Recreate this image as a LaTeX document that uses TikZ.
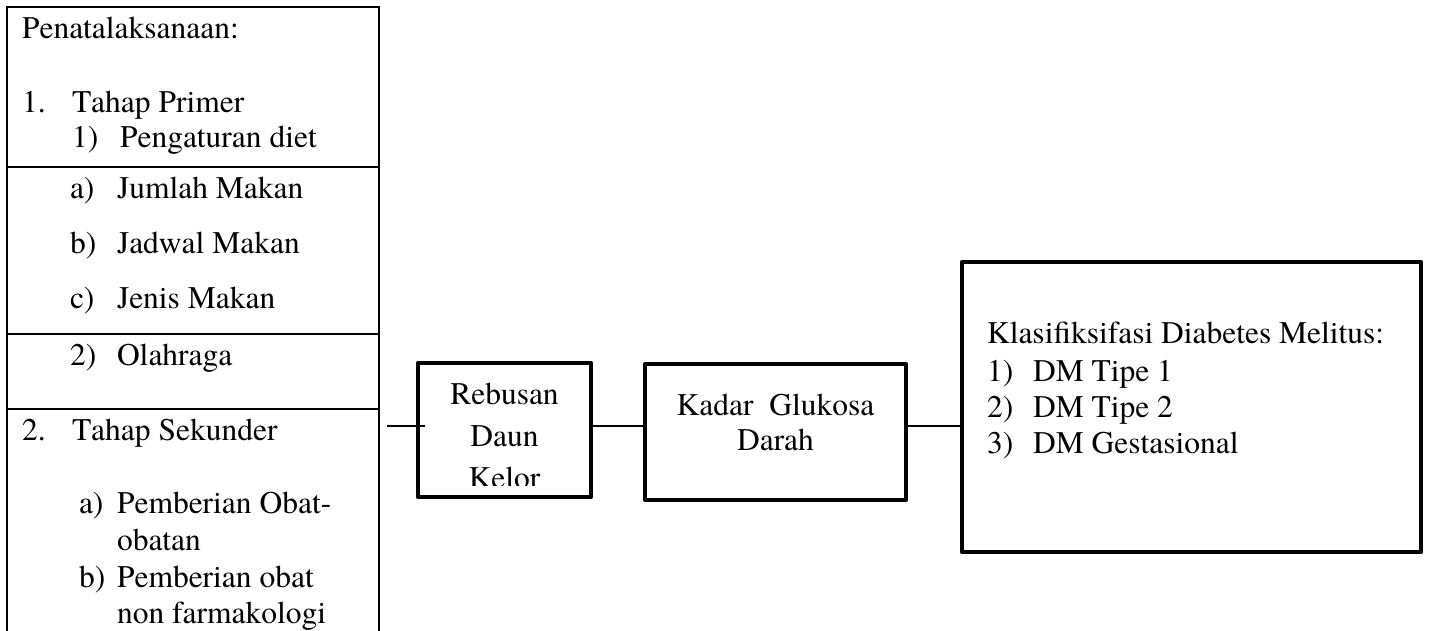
\documentclass[tikz,border=0pt]{standalone}
\usepackage{fontspec}
\setmainfont{texgyretermes}[Extension=.otf, UprightFont=*-regular, BoldFont=*-bold, ItalicFont=*-italic, BoldItalicFont=*-bolditalic, Kerning=Off]
\begin{document}
\begin{tikzpicture}[x=1pt,y=-1pt,
  every node/.style={inner sep=0pt, outer sep=0pt, font=\fontsize{31.5}{36}\selectfont},
  thinline/.style={line width=2.5pt},
  thickbox/.style={draw, line width=4.2pt, line join=round},
  lbox/.style={draw, line width=2.5pt},
  txt/.style={anchor=base west},
  ctxt/.style={anchor=base}]
\useasboundingbox (0,0) rectangle (1430,630);
% left panel (open at the bottom, runs past the page edge)
\node[lbox, anchor=north west, minimum width=372pt, minimum height=680pt] (left) at (7,7) {};
\coordinate (d1) at (7,167);
\coordinate (d2) at (7,334);
\coordinate (d3) at (7,409);
\draw[thinline] (d1) -- (left.east |- d1);
\draw[thinline] (d2) -- (left.east |- d2);
\draw[thinline] (d3) -- (left.east |- d3);
\node[txt] (p0) at (22,38) {Penatalaksanaan:};
\node[txt] (p1n) at (22,112) {1.};
\node[txt] (p1) at (72,112) {Tahap Primer};
\node[txt] (p11n) at (72,147) {1)};
\node[txt] (p11) at (120,147) {Pengaturan diet};
\node[txt] (pan) at (70,198) {a)};
\node[txt] (pa) at (117,198) {Jumlah Makan};
\node[txt] (pbn) at (70,253) {b)};
\node[txt] (pb) at (117,253) {Jadwal Makan};
\node[txt] (pcn) at (70,308) {c)};
\node[txt] (pc) at (117,308) {Jenis Makan};
\node[txt] (p12n) at (70,365) {2)};
\node[txt] (p12) at (117,365) {Olahraga};
\node[txt] (p2n) at (22,440) {2.};
\node[txt] (p2) at (72,440) {Tahap Sekunder};
\node[txt] (p2an) at (79,513) {a)};
\node[txt] (p2a) at (117,513) {Pemberian Obat-};
\node[txt] (p2a2) at (117,550) {obatan};
\node[txt] (p2bn) at (79,587) {b)};
\node[txt] (p2b) at (117,587) {Pemberian obat};
\node[txt] (p2b2) at (117,623) {non farmakologi};
% boxes
\node[thickbox, anchor=north west, minimum width=173pt, minimum height=134pt] (reb) at (418,363) {};
\node[thickbox, anchor=north west, minimum width=261pt, minimum height=136pt] (kad) at (645,364) {};
\node[thickbox, anchor=north west, minimum width=459pt, minimum height=290pt] (klas) at (962,262) {};
% texts in boxes
\node[ctxt] (r1) at (504.5,404) {Rebusan};
\node[ctxt] (r2) at (504.5,446) {Daun};
\begin{scope}
\clip (421,366) rectangle (588,485);
\node[ctxt] (r3) at (504.5,488) {Kelor};
\end{scope}
\node[ctxt] (k1) at (775.5,415) {Kadar~\ Glukosa};
\node[ctxt] (k2) at (775.5,450) {Darah};
\node[txt] (c0) at (987,343) {Klasifiksifasi Diabetes Melitus:};
\node[txt] (c1n) at (987,381) {1)};
\node[txt] (c1) at (1033,381) {DM Tipe 1};
\node[txt] (c2n) at (987,417) {2)};
\node[txt] (c2) at (1033,417) {DM Tipe 2};
\node[txt] (c3n) at (987,453) {3)};
\node[txt] (c3) at (1033,453) {DM Gestasional};
% connectors
\coordinate (lin) at (387,426);
\coordinate (lend) at (425,426);
\draw[thinline] (lin) -- (lend);
\draw[thinline] (reb.east |- lin) -- (kad.west |- lin);
\draw[thinline] (kad.east |- lin) -- (klas.west |- lin);
\end{tikzpicture}
\end{document}
